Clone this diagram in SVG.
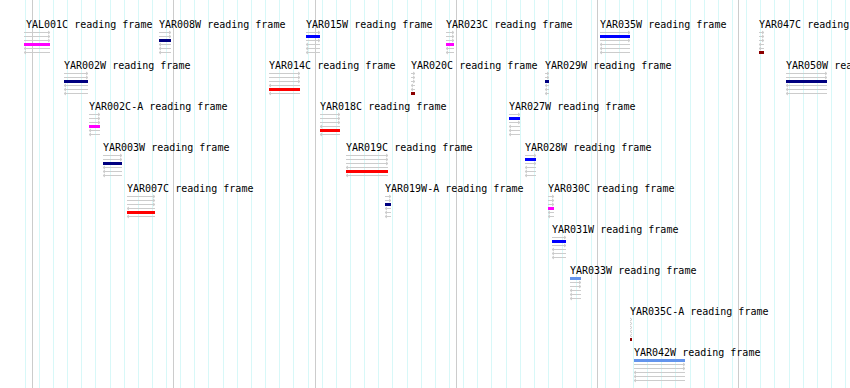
<svg xmlns="http://www.w3.org/2000/svg" width="850" height="388" viewBox="0 0 850 388">
<style>
.lbl{font-family:"DejaVu Sans Mono","Liberation Mono",monospace;font-size:10px;fill:#000}
.fr{stroke:#cccccc;stroke-width:1;fill:none}
.minor{stroke:#d8f8f8;stroke-width:1;fill:none}
.major{stroke:#cccccc;stroke-width:1;fill:none}
.c0{fill:#6495ed}.c1{fill:#0000ff}.c2{fill:#000080}.c3{fill:#ff00ff}.c4{fill:#ff0000}.c5{fill:#8b0000}
</style>
<rect width="850" height="388" fill="#ffffff"/>
<g id="grid">
<path class="minor" d="M25.5 0V388M39.5 0V388M53.5 0V388M67.5 0V388M81.5 0V388M95.5 0V388M110.5 0V388M124.5 0V388M138.5 0V388M152.5 0V388M166.5 0V388M180.5 0V388M194.5 0V388M208.5 0V388M223.5 0V388M237.5 0V388M251.5 0V388M265.5 0V388M279.5 0V388M293.5 0V388M308.5 0V388M322.5 0V388M336.5 0V388M350.5 0V388M364.5 0V388M378.5 0V388M392.5 0V388M407.5 0V388M421.5 0V388M435.5 0V388M449.5 0V388M463.5 0V388M477.5 0V388M491.5 0V388M506.5 0V388M520.5 0V388M534.5 0V388M548.5 0V388M562.5 0V388M576.5 0V388M591.5 0V388M605.5 0V388M619.5 0V388M633.5 0V388M647.5 0V388M661.5 0V388M675.5 0V388M690.5 0V388M704.5 0V388M718.5 0V388M732.5 0V388M746.5 0V388M760.5 0V388M774.5 0V388M789.5 0V388M803.5 0V388M817.5 0V388M831.5 0V388M845.5 0V388"/>
<path class="major" d="M32.5 0V388M173.5 0V388M315.5 0V388M456.5 0V388M597.5 0V388M738.5 0V388"/>
</g>
<g id="connectors"/>
<g id="YAL001C" transform="translate(24,20)"><text class="lbl" x="2" y="8">YAL001C reading frame</text>
<path class="fr" d="M0 12.5H26M24 11L26 12.5L24 14M0 16.5H26M24 15L26 16.5L24 18M0 20.5H26M24 19L26 20.5L24 22M0 28.5H26M2 27L0 28.5L2 30M0 32.5H26M2 31L0 32.5L2 34"/>
<rect class="c3" x="0" y="23" width="26" height="3"/></g>
<g id="YAR008W" transform="translate(159,20)"><text class="lbl" x="0" y="8">YAR008W reading frame</text>
<path class="fr" d="M0 12.5H12M10 11L12 12.5L10 14M0 16.5H12M10 15L12 16.5L10 18M0 24.5H12M2 23L0 24.5L2 26M0 28.5H12M2 27L0 28.5L2 30M0 32.5H12M2 31L0 32.5L2 34"/>
<rect class="c2" x="0" y="19" width="12" height="3"/></g>
<g id="YAR015W" transform="translate(306,20)"><text class="lbl" x="0" y="8">YAR015W reading frame</text>
<path class="fr" d="M0 12.5H14M12 11L14 12.5L12 14M0 20.5H14M12 19L14 20.5L12 22M0 24.5H14M2 23L0 24.5L2 26M0 28.5H14M2 27L0 28.5L2 30M0 32.5H14M2 31L0 32.5L2 34"/>
<rect class="c1" x="0" y="15" width="14" height="3"/></g>
<g id="YAR023C" transform="translate(446,20)"><text class="lbl" x="0" y="8">YAR023C reading frame</text>
<path class="fr" d="M0 12.5H8M6 11L8 12.5L6 14M0 16.5H8M6 15L8 16.5L6 18M0 20.5H8M6 19L8 20.5L6 22M0 28.5H8M2 27L0 28.5L2 30M0 32.5H8M2 31L0 32.5L2 34"/>
<rect class="c3" x="0" y="23" width="8" height="3"/></g>
<g id="YAR035W" transform="translate(600,20)"><text class="lbl" x="0" y="8">YAR035W reading frame</text>
<path class="fr" d="M0 12.5H30M28 11L30 12.5L28 14M0 20.5H30M28 19L30 20.5L28 22M0 24.5H30M2 23L0 24.5L2 26M0 28.5H30M2 27L0 28.5L2 30M0 32.5H30M2 31L0 32.5L2 34"/>
<rect class="c1" x="0" y="15" width="30" height="3"/></g>
<g id="YAR047C" transform="translate(759,20)"><text class="lbl" x="0" y="8">YAR047C reading frame</text>
<path class="fr" d="M0 12.5H5M3 11L5 12.5L3 14M0 16.5H5M3 15L5 16.5L3 18M0 20.5H5M3 19L5 20.5L3 22M0 24.5H5M2 23L0 24.5L2 26M0 28.5H5M2 27L0 28.5L2 30"/>
<rect class="c5" x="0" y="31" width="5" height="3"/></g>
<g id="YAR002W" transform="translate(64,61)"><text class="lbl" x="0" y="8">YAR002W reading frame</text>
<path class="fr" d="M0 12.5H24M22 11L24 12.5L22 14M0 16.5H24M22 15L24 16.5L22 18M0 24.5H24M2 23L0 24.5L2 26M0 28.5H24M2 27L0 28.5L2 30M0 32.5H24M2 31L0 32.5L2 34"/>
<rect class="c2" x="0" y="19" width="24" height="3"/></g>
<g id="YAR014C" transform="translate(269,61)"><text class="lbl" x="0" y="8">YAR014C reading frame</text>
<path class="fr" d="M0 12.5H31M29 11L31 12.5L29 14M0 16.5H31M29 15L31 16.5L29 18M0 20.5H31M29 19L31 20.5L29 22M0 24.5H31M2 23L0 24.5L2 26M0 32.5H31M2 31L0 32.5L2 34"/>
<rect class="c4" x="0" y="27" width="31" height="3"/></g>
<g id="YAR020C" transform="translate(411,61)"><text class="lbl" x="0" y="8">YAR020C reading frame</text>
<path class="fr" d="M0 12.5H4M2 11L4 12.5L2 14M0 16.5H4M2 15L4 16.5L2 18M0 20.5H4M2 19L4 20.5L2 22M0 24.5H4M2 23L0 24.5L2 26M0 28.5H4M2 27L0 28.5L2 30"/>
<rect class="c5" x="0" y="31" width="4" height="3"/></g>
<g id="YAR029W" transform="translate(545,61)"><text class="lbl" x="0" y="8">YAR029W reading frame</text>
<path class="fr" d="M0 12.5H4M2 11L4 12.5L2 14M0 16.5H4M2 15L4 16.5L2 18M0 24.5H4M2 23L0 24.5L2 26M0 28.5H4M2 27L0 28.5L2 30M0 32.5H4M2 31L0 32.5L2 34"/>
<rect class="c2" x="0" y="19" width="4" height="3"/></g>
<g id="YAR050W" transform="translate(786,61)"><text class="lbl" x="0" y="8">YAR050W reading frame</text>
<path class="fr" d="M0 12.5H41M39 11L41 12.5L39 14M0 16.5H41M39 15L41 16.5L39 18M0 24.5H41M2 23L0 24.5L2 26M0 28.5H41M2 27L0 28.5L2 30M0 32.5H41M2 31L0 32.5L2 34"/>
<rect class="c2" x="0" y="19" width="41" height="3"/></g>
<g id="YAR002C-A" transform="translate(89,102)"><text class="lbl" x="0" y="8">YAR002C-A reading frame</text>
<path class="fr" d="M0 12.5H11M9 11L11 12.5L9 14M0 16.5H11M9 15L11 16.5L9 18M0 20.5H11M9 19L11 20.5L9 22M0 28.5H11M2 27L0 28.5L2 30M0 32.5H11M2 31L0 32.5L2 34"/>
<rect class="c3" x="0" y="23" width="11" height="3"/></g>
<g id="YAR018C" transform="translate(320,102)"><text class="lbl" x="0" y="8">YAR018C reading frame</text>
<path class="fr" d="M0 12.5H20M18 11L20 12.5L18 14M0 16.5H20M18 15L20 16.5L18 18M0 20.5H20M18 19L20 20.5L18 22M0 24.5H20M2 23L0 24.5L2 26M0 32.5H20M2 31L0 32.5L2 34"/>
<rect class="c4" x="0" y="27" width="20" height="3"/></g>
<g id="YAR027W" transform="translate(509,102)"><text class="lbl" x="0" y="8">YAR027W reading frame</text>
<path class="fr" d="M0 12.5H11M9 11L11 12.5L9 14M0 20.5H11M9 19L11 20.5L9 22M0 24.5H11M2 23L0 24.5L2 26M0 28.5H11M2 27L0 28.5L2 30M0 32.5H11M2 31L0 32.5L2 34"/>
<rect class="c1" x="0" y="15" width="11" height="3"/></g>
<g id="YAR003W" transform="translate(103,143)"><text class="lbl" x="0" y="8">YAR003W reading frame</text>
<path class="fr" d="M0 12.5H19M17 11L19 12.5L17 14M0 16.5H19M17 15L19 16.5L17 18M0 24.5H19M2 23L0 24.5L2 26M0 28.5H19M2 27L0 28.5L2 30M0 32.5H19M2 31L0 32.5L2 34"/>
<rect class="c2" x="0" y="19" width="19" height="3"/></g>
<g id="YAR019C" transform="translate(346,143)"><text class="lbl" x="0" y="8">YAR019C reading frame</text>
<path class="fr" d="M0 12.5H42M40 11L42 12.5L40 14M0 16.5H42M40 15L42 16.5L40 18M0 20.5H42M40 19L42 20.5L40 22M0 24.5H42M2 23L0 24.5L2 26M0 32.5H42M2 31L0 32.5L2 34"/>
<rect class="c4" x="0" y="27" width="42" height="3"/></g>
<g id="YAR028W" transform="translate(525,143)"><text class="lbl" x="0" y="8">YAR028W reading frame</text>
<path class="fr" d="M0 12.5H11M9 11L11 12.5L9 14M0 20.5H11M9 19L11 20.5L9 22M0 24.5H11M2 23L0 24.5L2 26M0 28.5H11M2 27L0 28.5L2 30M0 32.5H11M2 31L0 32.5L2 34"/>
<rect class="c1" x="0" y="15" width="11" height="3"/></g>
<g id="YAR007C" transform="translate(127,184)"><text class="lbl" x="0" y="8">YAR007C reading frame</text>
<path class="fr" d="M0 12.5H28M26 11L28 12.5L26 14M0 16.5H28M26 15L28 16.5L26 18M0 20.5H28M26 19L28 20.5L26 22M0 24.5H28M2 23L0 24.5L2 26M0 32.5H28M2 31L0 32.5L2 34"/>
<rect class="c4" x="0" y="27" width="28" height="3"/></g>
<g id="YAR019W-A" transform="translate(385,184)"><text class="lbl" x="0" y="8">YAR019W-A reading frame</text>
<path class="fr" d="M0 12.5H6M4 11L6 12.5L4 14M0 16.5H6M4 15L6 16.5L4 18M0 24.5H6M2 23L0 24.5L2 26M0 28.5H6M2 27L0 28.5L2 30M0 32.5H6M2 31L0 32.5L2 34"/>
<rect class="c2" x="0" y="19" width="6" height="3"/></g>
<g id="YAR030C" transform="translate(548,184)"><text class="lbl" x="0" y="8">YAR030C reading frame</text>
<path class="fr" d="M0 12.5H6M4 11L6 12.5L4 14M0 16.5H6M4 15L6 16.5L4 18M0 20.5H6M4 19L6 20.5L4 22M0 28.5H6M2 27L0 28.5L2 30M0 32.5H6M2 31L0 32.5L2 34"/>
<rect class="c3" x="0" y="23" width="6" height="3"/></g>
<g id="YAR031W" transform="translate(552,225)"><text class="lbl" x="0" y="8">YAR031W reading frame</text>
<path class="fr" d="M0 12.5H14M12 11L14 12.5L12 14M0 20.5H14M12 19L14 20.5L12 22M0 24.5H14M2 23L0 24.5L2 26M0 28.5H14M2 27L0 28.5L2 30M0 32.5H14M2 31L0 32.5L2 34"/>
<rect class="c1" x="0" y="15" width="14" height="3"/></g>
<g id="YAR033W" transform="translate(570,266)"><text class="lbl" x="0" y="8">YAR033W reading frame</text>
<path class="fr" d="M0 16.5H11M9 15L11 16.5L9 18M0 20.5H11M9 19L11 20.5L9 22M0 24.5H11M2 23L0 24.5L2 26M0 28.5H11M2 27L0 28.5L2 30M0 32.5H11M2 31L0 32.5L2 34"/>
<rect class="c0" x="0" y="11" width="11" height="3"/></g>
<g id="YAR035C-A" transform="translate(630,307)"><text class="lbl" x="0" y="8">YAR035C-A reading frame</text>
<path class="fr" d="M0 11L2 12.5L0 14M0 15L2 16.5L0 18M0 19L2 20.5L0 22M2 23L0 24.5L2 26M2 27L0 28.5L2 30"/>
<rect class="c5" x="0" y="31" width="2" height="3"/></g>
<g id="YAR042W" transform="translate(634,348)"><text class="lbl" x="0" y="8">YAR042W reading frame</text>
<path class="fr" d="M0 16.5H51M49 15L51 16.5L49 18M0 20.5H51M49 19L51 20.5L49 22M0 24.5H51M2 23L0 24.5L2 26M0 28.5H51M2 27L0 28.5L2 30M0 32.5H51M2 31L0 32.5L2 34"/>
<rect class="c0" x="0" y="11" width="51" height="3"/></g>
</svg>
